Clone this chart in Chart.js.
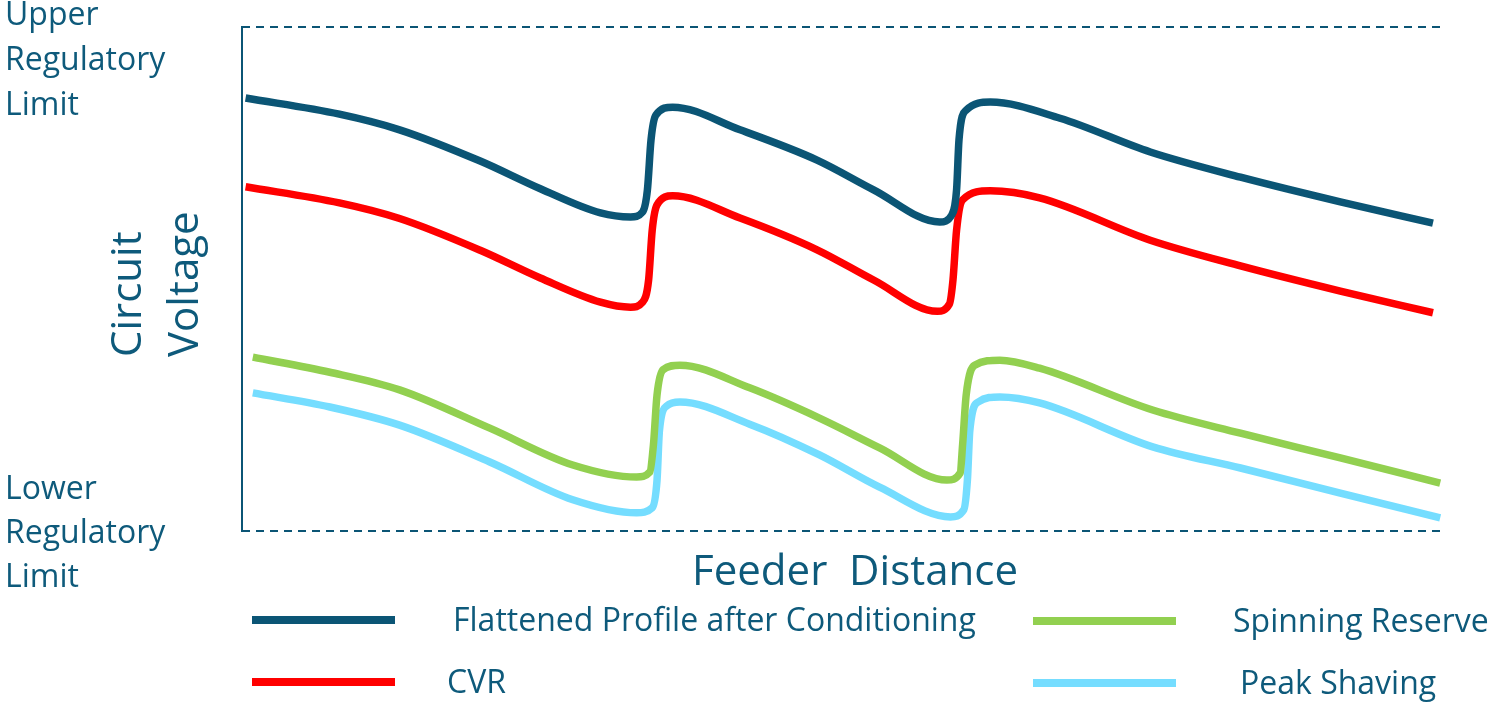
<!DOCTYPE html>
<html>
<head>
<meta charset="utf-8">
<script src="https://cdn.jsdelivr.net/npm/chart.js@4.4.1/dist/chart.umd.min.js"></script>
<style>
  html, body { margin: 0; padding: 0; background: #fff; }
  #wrap { width: 1495px; height: 703px; }
</style>
</head>
<body>
<div id="wrap"><canvas id="myChart" width="1495" height="703"></canvas></div>
<script>
// feeder distance (0-100) / voltage between lower (0) and upper (100) limits
var seriesNames = ['Flattened Profile after Conditioning', 'CVR', 'Spinning Reserve', 'Peak Shaving'];
var seriesColors = ['#0B5575', '#FF0000', '#92D050', '#75DDFF'];

var flatX = [0.3, 8.1, 13.1, 19.8, 24.8, 29.8, 32.3, 33.3, 33.7, 34.0, 34.4, 35.8, 41.4, 47.8, 52.5, 58.0, 59.0, 59.4, 59.6, 60.2, 62.2, 68.0, 75.5, 83.0, 91.3, 99.0];
var flatY = [85.9, 82.7, 79.6, 73.4, 67.9, 63.1, 62.3, 63.3, 67.7, 77.6, 82.5, 84.1, 79.6, 73.6, 67.7, 61.3, 62.7, 67.7, 77.6, 83.5, 85.1, 81.9, 75.2, 70.2, 65.3, 61.1];

var cvrX = [0.3, 8.1, 13.1, 19.8, 24.8, 29.8, 32.3, 33.3, 33.8, 34.1, 34.5, 35.8, 41.4, 47.8, 52.5, 57.8, 58.8, 59.1, 59.4, 59.9, 62.2, 66.3, 75.5, 83.0, 91.3, 99.0];
var cvrY = [68.3, 65.1, 62.0, 55.7, 50.2, 45.4, 44.4, 45.4, 49.8, 59.7, 64.7, 66.5, 62.1, 55.8, 49.8, 43.6, 45.0, 49.8, 59.7, 65.7, 67.5, 66.1, 57.7, 52.6, 47.6, 43.3];

var spinX = [0.9, 7.3, 13.1, 20.6, 27.5, 32.8, 33.9, 34.2, 34.5, 35.0, 36.4, 42.2, 48.0, 53.0, 58.6, 59.7, 59.9, 60.2, 60.9, 63.0, 66.3, 75.7, 83.0, 91.3, 99.6];
var spinY = [34.5, 31.5, 28.0, 20.4, 13.1, 10.7, 11.7, 17.1, 27.0, 32.0, 32.9, 28.4, 22.4, 16.5, 10.1, 11.5, 17.1, 27.0, 32.9, 33.9, 32.3, 24.0, 19.4, 14.5, 9.5];

var peakX = [0.9, 7.3, 13.1, 20.6, 27.5, 32.8, 34.1, 34.5, 34.7, 35.3, 36.4, 42.2, 48.0, 53.0, 58.9, 60.0, 60.3, 60.5, 61.2, 63.0, 66.3, 75.7, 83.0, 91.3, 99.6];
var peakY = [27.4, 24.6, 21.0, 13.7, 6.2, 3.6, 4.6, 10.1, 19.9, 24.8, 25.6, 21.2, 15.1, 8.7, 2.8, 4.2, 10.1, 19.9, 25.6, 26.6, 25.4, 16.7, 12.5, 7.5, 2.6];

var limitX = [0, 100];
var upperLimit = [100, 100];
var lowerLimit = [0, 0];

var textColor = '#0E5A7B';
var font = '"Open Sans", "Noto Sans", sans-serif';

function pts(xs, ys) {
    return xs.map(function (x, i) { return { x: x, y: ys[i] }; });
}

function curve(i, xs, ys) {
    return {
        label: seriesNames[i],
        data: pts(xs, ys),
        borderColor: seriesColors[i],
        borderWidth: 7.5,
        borderCapStyle: 'butt',
        cubicInterpolationMode: 'monotone',
        pointRadius: 0,
        fill: false,
        clip: false
    };
}

function limit(ys) {
    return {
        label: 'limit',
        data: pts(limitX, ys),
        borderColor: '#0B5575',
        borderWidth: 2,
        borderDash: [8, 6],
        pointRadius: 0,
        clip: false
    };
}

// draws the limit labels, axis titles and the two-column legend
var textPlugin = {
    id: 'textPlugin',
    afterDraw: function (chart) {
        var c = chart.ctx;
        c.save();
        c.fillStyle = textColor;
        c.textBaseline = 'middle';
        c.textAlign = 'left';

        c.font = '32px ' + font;
        ['Upper', 'Regulatory', 'Limit'].forEach(function (t, i) { c.fillText(t, 5, 16 + i * 45); });
        ['Lower', 'Regulatory', 'Limit'].forEach(function (t, i) { c.fillText(t, 5, 490 + i * 44); });

        c.font = '42px ' + font;
        c.textAlign = 'center';
        c.fillText('Feeder  Distance', 855, 573);

        c.save();
        c.translate(0, 357);
        c.rotate(-Math.PI / 2);
        c.textAlign = 'left';
        c.fillText('Circuit', 0, 129);
        c.fillText('Voltage', 0, 186);
        c.restore();

        // legend
        var items = [
            { ds: 0, lx: 252, tx: 453, y: 620 },
            { ds: 1, lx: 252, tx: 447, y: 682 },
            { ds: 2, lx: 1033, tx: 1233, y: 621 },
            { ds: 3, lx: 1033, tx: 1240, y: 683 }
        ];
        c.font = '32px ' + font;
        c.textAlign = 'left';
        items.forEach(function (it) {
            c.strokeStyle = seriesColors[it.ds];
            c.lineWidth = 8;
            c.beginPath();
            c.moveTo(it.lx, it.y);
            c.lineTo(it.lx + 143, it.y);
            c.stroke();
            c.fillStyle = textColor;
            c.fillText(seriesNames[it.ds], it.tx, it.y + 2);
        });
        c.restore();
    }
};

var ctx = document.getElementById('myChart').getContext('2d');
var myChart = new Chart(ctx, {
    type: 'line',
    data: {
        datasets: [
            limit(upperLimit),
            limit(lowerLimit),
            curve(0, flatX, flatY),
            curve(1, cvrX, cvrY),
            curve(2, spinX, spinY),
            curve(3, peakX, peakY)
        ]
    },
    options: {
        responsive: false,
        animation: false,
        layout: { padding: { left: 242, right: 50, top: 27, bottom: 172 } },
        plugins: {
            legend: { display: false },
            tooltip: { enabled: false }
        },
        scales: {
            x: {
                type: 'linear',
                min: 0,
                max: 100,
                display: false
            },
            y: {
                min: 0,
                max: 100,
                grid: { display: false },
                ticks: { display: false },
                border: { display: true, color: '#0B5575', width: 2 },
                afterFit: function (s) { s.width = 0; }
            }
        }
    },
    plugins: [textPlugin]
});
</script>
</body>
</html>
